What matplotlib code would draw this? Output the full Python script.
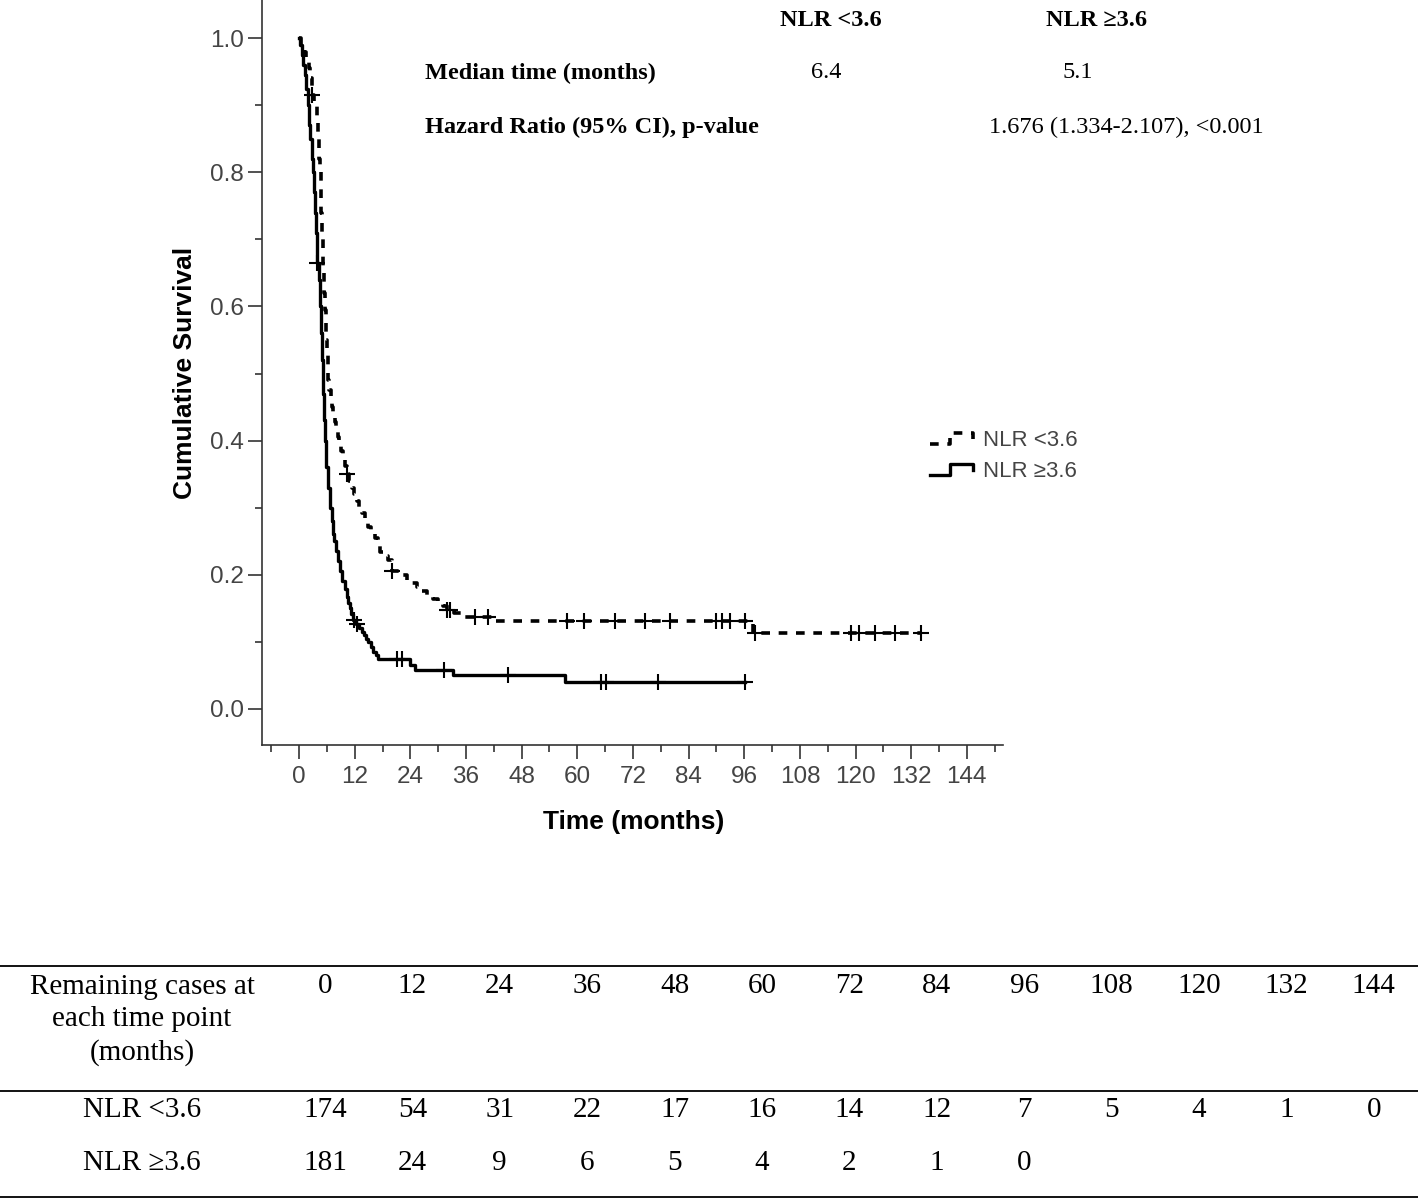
import numpy as np
import matplotlib.pyplot as plt
from matplotlib import font_manager
from matplotlib.lines import Line2D
from matplotlib.legend_handler import HandlerBase

# Kaplan-Meier curve points (months, cumulative survival)
low_t = [0, 0.5, 1.0, 1.4, 1.8, 2.1, 2.4, 2.7, 3.2, 3.8, 4.0, 4.2, 4.35, 4.5, 4.65, 4.8,
         4.95, 5.1, 5.25, 5.4, 5.55, 5.7, 5.85, 6.0, 6.15, 6.3, 6.55, 6.8, 7.1, 7.4, 7.7,
         8.0, 8.35, 8.7, 9.1, 9.5, 9.9, 10.3, 10.8, 11.4, 11.9, 12.4, 13.0, 13.5, 14.2,
         14.9, 15.6, 16.4, 17.0, 17.5, 18.3, 19.2, 20.0, 21.5, 23.2, 24.3, 25.4, 26.5,
         27.5, 28.8, 30.0, 31.0, 31.8, 33.5, 35.4, 42.3, 97.9, 134.2]
low_s = [1.0, 0.99, 0.98, 0.972, 0.965, 0.955, 0.94, 0.915, 0.90, 0.88, 0.86, 0.84, 0.82,
         0.80, 0.77, 0.74, 0.71, 0.68, 0.65, 0.62, 0.595, 0.57, 0.55, 0.53, 0.51, 0.49,
         0.475, 0.46, 0.45, 0.44, 0.427, 0.415, 0.405, 0.396, 0.385, 0.374, 0.362, 0.35,
         0.34, 0.33, 0.32, 0.31, 0.30, 0.292, 0.281, 0.271, 0.263, 0.255, 0.245, 0.234,
         0.228, 0.222, 0.206, 0.20, 0.192, 0.187, 0.182, 0.175, 0.167, 0.163, 0.159,
         0.153, 0.148, 0.143, 0.137, 0.131, 0.113, 0.113]
low_cens = [2.7, 10.3, 20.0, 31.8, 32.5, 37.9, 40.7, 57.7, 61.5, 68.1, 74.6, 80.0, 90.0,
            91.1, 92.9, 96.1, 98.3, 119.1, 120.8, 124.3, 128.5, 134.2]

high_t = [0, 0.3, 0.6, 0.9, 1.2, 1.5, 1.9, 2.2, 2.4, 2.7, 2.9, 3.2, 3.4, 3.6, 3.9, 4.2,
          4.5, 4.7, 5.0, 5.2, 5.4, 5.6, 5.9, 6.3, 6.6, 7.0, 7.3, 7.6, 8.0, 8.4, 8.8, 9.3,
          9.8, 10.3, 10.6, 11.0, 11.3, 11.7, 12.3, 13.0, 13.5, 14.0, 14.5, 14.9, 15.5,
          16.0, 16.5, 17.0, 24.0, 25.0, 33.2, 57.3, 96.1]
high_s = [1.0, 0.99, 0.975, 0.96, 0.945, 0.925, 0.90, 0.87, 0.85, 0.82, 0.80, 0.77, 0.74,
          0.71, 0.665, 0.64, 0.60, 0.56, 0.52, 0.47, 0.43, 0.40, 0.36, 0.33, 0.30, 0.28,
          0.26, 0.25, 0.235, 0.22, 0.205, 0.19, 0.178, 0.167, 0.158, 0.15, 0.142, 0.133,
          0.127, 0.12, 0.115, 0.11, 0.104, 0.10, 0.092, 0.085, 0.08, 0.074, 0.066, 0.058,
          0.051, 0.040, 0.040]
high_cens = [3.9, 11.8, 12.5, 21.1, 22.2, 31.3, 45.0, 65.1, 66.2, 77.4, 96.1]

# numbers at risk table
risk_times = [0, 12, 24, 36, 48, 60, 72, 84, 96, 108, 120, 132, 144]
risk_low = [174, 54, 31, 22, 17, 16, 14, 12, 7, 5, 4, 1, 0]
risk_high = [181, 24, 9, 6, 5, 4, 2, 1, 0]

W, H = 1418, 1199


def fx(px):
    return px / W


def fy(py):
    return 1 - py / H


def surv_at(ts, times, surv):
    idx = np.searchsorted(times, ts, side="right") - 1
    return np.asarray(surv)[np.clip(idx, 0, None)]


class StepHandler(HandlerBase):
    # SPSS style step glyph for the legend
    def create_artists(self, legend, orig, xdescent, ydescent, width, height, fontsize, trans):
        x0, y0 = -xdescent, -ydescent
        xs = [x0, x0 + 0.45 * width, x0 + 0.45 * width, x0 + width, x0 + width]
        ys = [y0 + 0.1 * height, y0 + 0.1 * height, y0 + 0.9 * height,
              y0 + 0.9 * height, y0 + 0.45 * height]
        line = Line2D(xs, ys)
        line.update_from(orig)
        line.set_transform(trans)
        return [line]


names = {f.name for f in font_manager.fontManager.ttflist}
sans = "Liberation Sans"
serif = "Liberation Serif"
if "Liberation Sans Narrow" in names:
    tick_font, tick_size = "Liberation Sans Narrow", 19
else:
    tick_font, tick_size = sans, 17.5
tick_col = "#444444"

fig = plt.figure(figsize=(W / 100, H / 100), dpi=100)
ax = fig.add_axes([fx(262), fy(745), fx(1003) - fx(262), fy(0) - fy(745)])

l1, = ax.plot(low_t, low_s, drawstyle="steps-post", color="black", lw=2.6,
              dashes=(2.4, 2.4), solid_capstyle="butt")
ax.plot(low_cens, surv_at(low_cens, low_t, low_s), "+", ms=11, mew=1.5, color="black")
l2, = ax.plot(high_t, high_s, drawstyle="steps-post", color="black", lw=2.4)
ax.plot(high_cens, surv_at(high_cens, high_t, high_s), "+", ms=11, mew=1.5, color="black")

ax.set_xlim(-8, 151.8)
ax.set_ylim(-0.054, 1.057)
ax.set_xticks(np.arange(0, 145, 12))
ax.set_xticks(np.arange(-6, 152, 12), minor=True)
ax.set_yticks([0.0, 0.2, 0.4, 0.6, 0.8, 1.0])
ax.set_yticks([0.1, 0.3, 0.5, 0.7, 0.9], minor=True)
ax.set_yticklabels(["0.0", "0.2", "0.4", "0.6", "0.8", "1.0"])
for sp in ["top", "right"]:
    ax.spines[sp].set_visible(False)
for sp in ["left", "bottom"]:
    ax.spines[sp].set_color("#333333")
    ax.spines[sp].set_linewidth(1.2)
ax.tick_params(which="major", length=10, width=1.2, color="#333333",
               labelsize=tick_size, labelcolor=tick_col, pad=3)
ax.tick_params(which="minor", length=5, width=1.2, color="#333333")
ax.tick_params(axis="x", which="major", pad=5)
for lab in ax.get_xticklabels() + ax.get_yticklabels():
    lab.set_family([tick_font, sans])

ax.set_xlabel("Time (months)", family=sans, fontsize=19, fontweight="bold")
ax.set_ylabel("Cumulative Survival", family=sans, fontsize=19, fontweight="bold")
ax.xaxis.set_label_coords((634 - 262) / 741, -(810 - 745) / 745)
ax.yaxis.set_label_coords((197 - 262) / 741, 0.5)

leg = ax.legend([l1, l2], ["NLR <3.6", "NLR \u22653.6"], handler_map={Line2D: StepHandler()},
                loc="center left", bbox_to_anchor=((919 - 262) / 741, (745 - 456) / 745),
                frameon=False, borderpad=0, handlelength=1.95, handleheight=0.6,
                handletextpad=0.45, labelspacing=0.45,
                prop={"family": sans, "size": 16})
for t in leg.get_texts():
    t.set_color(tick_col)

# summary block at the top
bold = dict(family=serif, fontsize=17.5, fontweight="bold", va="center")
reg = dict(family=serif, fontsize=17.5, va="center")
fig.text(fx(831), fy(20), "NLR <3.6", ha="center", **bold)
fig.text(fx(1096), fy(20), "NLR \u22653.6", ha="center", **bold)
fig.text(fx(425), fy(73), "Median time (months)", ha="left", **bold)
fig.text(fx(826), fy(73), "6.4", ha="center", **reg)
fig.text(fx(1078), fy(73), "5.1", ha="center", **reg)
fig.text(fx(425), fy(127), "Hazard Ratio (95% CI), p-value", ha="left", **bold)
fig.text(fx(1126), fy(127), "1.676 (1.334-2.107), <0.001", ha="center", **reg)

# numbers at risk table
for py in [966, 1091, 1197]:
    fig.add_artist(Line2D([0, 1], [fy(py), fy(py)], color="black", lw=1.3,
                          transform=fig.transFigure))
tab = dict(family=serif, fontsize=21, va="center", ha="center")
fig.text(fx(142), fy(1020), "Remaining cases at\neach time point\n(months)",
         multialignment="center", linespacing=1.3, **tab)
fig.text(fx(142), fy(1110), "NLR <3.6", **tab)
fig.text(fx(142), fy(1163), "NLR \u22653.6", **tab)
for i, tm in enumerate(risk_times):
    xc = fx(325 + i * 87.4)
    fig.text(xc, fy(986), str(tm), **tab)
    fig.text(xc, fy(1110), str(risk_low[i]), **tab)
    if i < len(risk_high):
        fig.text(xc, fy(1163), str(risk_high[i]), **tab)

fig.savefig("out.png", dpi=100)
plt.close(fig)
